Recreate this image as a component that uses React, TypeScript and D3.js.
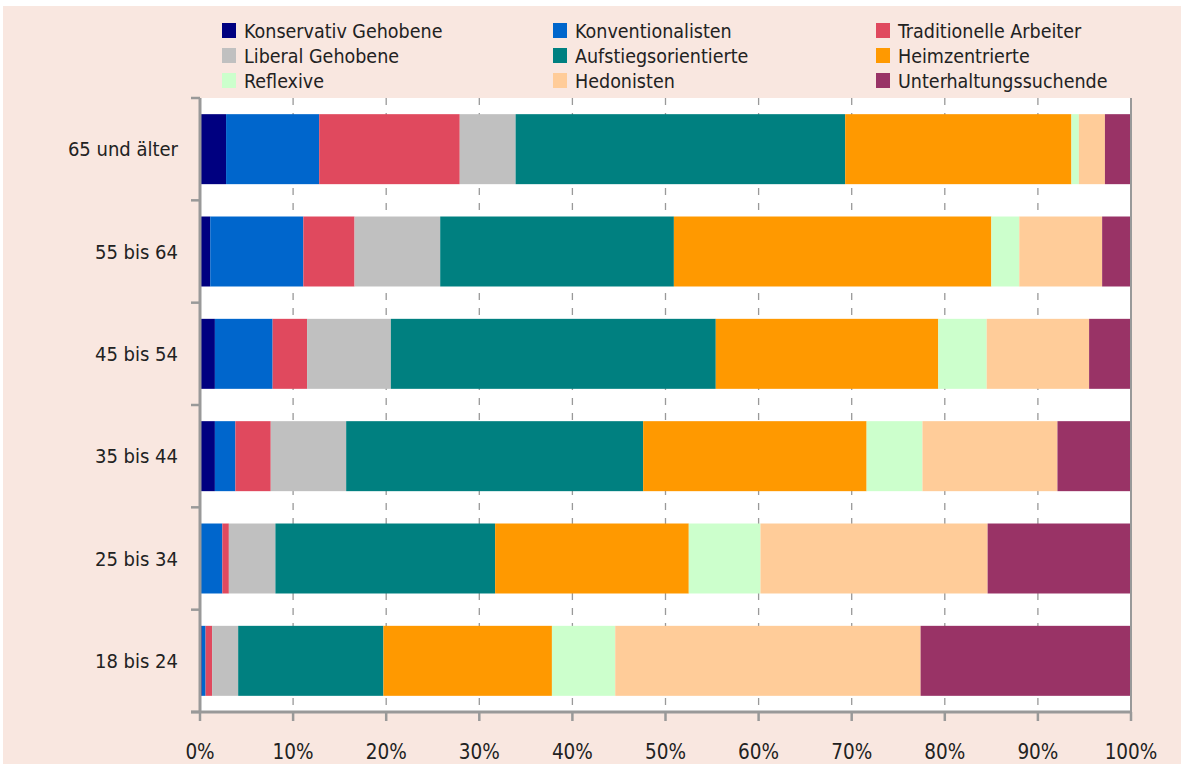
import * as d3 from 'd3';
import React, { useEffect, useRef } from 'react';

// age groups, top to bottom
const ageGroups = ['65 und älter', '55 bis 64', '45 bis 54', '35 bis 44', '25 bis 34', '18 bis 24'];

const seriesNames = [
  'Konservativ Gehobene', 'Konventionalisten', 'Traditionelle Arbeiter',
  'Liberal Gehobene', 'Aufstiegsorientierte', 'Heimzentrierte',
  'Reflexive', 'Hedonisten', 'Unterhaltungssuchende',
];

const seriesColors = [
  '#000080', '#0066cc', '#e0495e',
  '#c0c0c0', '#008080', '#ff9900',
  '#ccffcc', '#ffcc99', '#993366',
];

// shares in % per age group
const konservativGehobene = [2.8, 1.1, 1.6, 1.6, 0.0, 0.2];
const konventionalisten = [10.0, 10.0, 6.2, 2.2, 2.4, 0.4];
const traditionelleArbeiter = [15.1, 5.5, 3.7, 3.8, 0.7, 0.7];
const liberalGehobene = [6.0, 9.2, 9.0, 8.1, 5.0, 2.8];
const aufstiegsorientierte = [35.4, 25.1, 34.9, 31.9, 23.6, 15.6];
const heimzentrierte = [24.3, 34.1, 23.9, 24.0, 20.8, 18.1];
const reflexive = [0.8, 3.0, 5.2, 6.0, 7.7, 6.8];
const hedonisten = [2.8, 8.9, 11.0, 14.5, 24.4, 32.8];
const unterhaltungssuchende = [2.8, 3.1, 4.5, 7.9, 15.4, 22.6];

const xTicks = [0, 10, 20, 30, 40, 50, 60, 70, 80, 90, 100];

const seriesValues = [
  konservativGehobene, konventionalisten, traditionelleArbeiter,
  liberalGehobene, aufstiegsorientierte, heimzentrierte,
  reflexive, hedonisten, unterhaltungssuchende,
];

const FONT = "'Liberation Sans Narrow', 'DejaVu Sans Condensed', 'Noto Sans', sans-serif";

function StackedBars() {
  const chartRef = useRef(null);

  useEffect(() => {
    document.body.style.margin = '0';
    const root = d3.select(chartRef.current);
    root.selectAll('*').remove();

    const svgWidth = 1184;
    const svgHeight = 764;
    const margin = { top: 98, right: 53, bottom: 52, left: 200 };
    const width = svgWidth - margin.left - margin.right;
    const height = svgHeight - margin.top - margin.bottom;

    const svgRoot = root.append('svg')
      .attr('width', svgWidth)
      .attr('height', svgHeight)
      .style('display', 'block')
      .style('font-family', FONT);

    // pink panel
    svgRoot.append('rect')
      .attr('x', 3).attr('y', 6)
      .attr('width', svgWidth - 6).attr('height', svgHeight - 6)
      .attr('fill', '#f9e7e0');

    // table for the stack
    const rows = ageGroups.map((g, i) => {
      const row = { group: g };
      seriesNames.forEach((s, j) => { row[s] = seriesValues[j][i]; });
      return row;
    });
    const stacked = d3.stack().keys(seriesNames)(rows);

    const x = d3.scaleLinear().domain([0, 100]).range([0, width]);
    const y = d3.scaleBand().domain(ageGroups).range([0, height])
      .paddingInner(0.316).paddingOuter(0.158);

    const svg = svgRoot.append('g')
      .attr('transform', `translate(${margin.left},${margin.top})`);

    svg.append('rect')
      .attr('width', width).attr('height', height)
      .attr('fill', '#ffffff');

    // dashed gridlines
    svg.selectAll('.grid')
      .data(xTicks.slice(1, -1))
      .enter().append('line')
      .attr('x1', d => x(d)).attr('x2', d => x(d))
      .attr('y1', 0).attr('y2', height)
      .attr('stroke', '#999')
      .attr('stroke-width', 1.3)
      .attr('stroke-dasharray', '7,8');

    // bars
    svg.selectAll('.series')
      .data(stacked)
      .enter().append('g')
      .attr('fill', (d, i) => seriesColors[i])
      .selectAll('rect')
      .data(d => d)
      .enter().append('rect')
      .attr('x', d => x(d[0]))
      .attr('y', d => y(d.data.group))
      .attr('width', d => x(d[1]) - x(d[0]))
      .attr('height', y.bandwidth());

    const axisColor = '#999999';
    const textColor = '#222222';

    // right border
    svg.append('line')
      .attr('x1', width).attr('x2', width)
      .attr('y1', 0).attr('y2', height)
      .attr('stroke', axisColor).attr('stroke-width', 2);

    // left axis with ticks at band edges
    const step = y.step();
    const yEdges = d3.range(ageGroups.length + 1).map(i => i * step);
    svg.append('line')
      .attr('x1', 0).attr('x2', 0)
      .attr('y1', 0).attr('y2', height + 1)
      .attr('stroke', axisColor).attr('stroke-width', 3);
    svg.selectAll('.ytick')
      .data(yEdges)
      .enter().append('line')
      .attr('x1', -9).attr('x2', 0)
      .attr('y1', d => d).attr('y2', d => d)
      .attr('stroke', axisColor).attr('stroke-width', 2.5);

    svg.selectAll('.ylabel')
      .data(ageGroups)
      .enter().append('text')
      .attr('x', -22)
      .attr('y', d => y(d) + y.bandwidth() / 2)
      .attr('dy', '0.35em')
      .attr('text-anchor', 'end')
      .attr('font-size', 20)
      .attr('fill', textColor)
      .text(d => d);

    // bottom axis
    svg.append('line')
      .attr('x1', -9).attr('x2', width + 1)
      .attr('y1', height).attr('y2', height)
      .attr('stroke', axisColor).attr('stroke-width', 3);
    svg.selectAll('.xtick')
      .data(xTicks)
      .enter().append('line')
      .attr('x1', d => x(d)).attr('x2', d => x(d))
      .attr('y1', height).attr('y2', height + 9)
      .attr('stroke', axisColor).attr('stroke-width', 2.5);
    svg.selectAll('.xlabel')
      .data(xTicks)
      .enter().append('text')
      .attr('x', d => x(d))
      .attr('y', height + 47)
      .attr('text-anchor', 'middle')
      .attr('font-size', 20.5)
      .attr('fill', textColor)
      .text(d => `${d}%`);

    // legend, 3 columns
    const legendX = [222, 553, 876];
    const legendY = [30.5, 55.5, 80.5];
    const legend = svgRoot.append('g');
    seriesNames.forEach((name, i) => {
      const cx = legendX[i % 3];
      const cy = legendY[Math.floor(i / 3)];
      legend.append('rect')
        .attr('x', cx).attr('y', cy - 7.5)
        .attr('width', 14).attr('height', 15)
        .attr('fill', seriesColors[i]);
      legend.append('text')
        .attr('x', cx + 22).attr('y', cy)
        .attr('dy', '0.36em')
        .attr('font-size', 19.5)
        .attr('fill', textColor)
        .text(name);
    });
  }, []);

  return <div ref={chartRef} />;
}

export default function App() {
  return <StackedBars />;
}
